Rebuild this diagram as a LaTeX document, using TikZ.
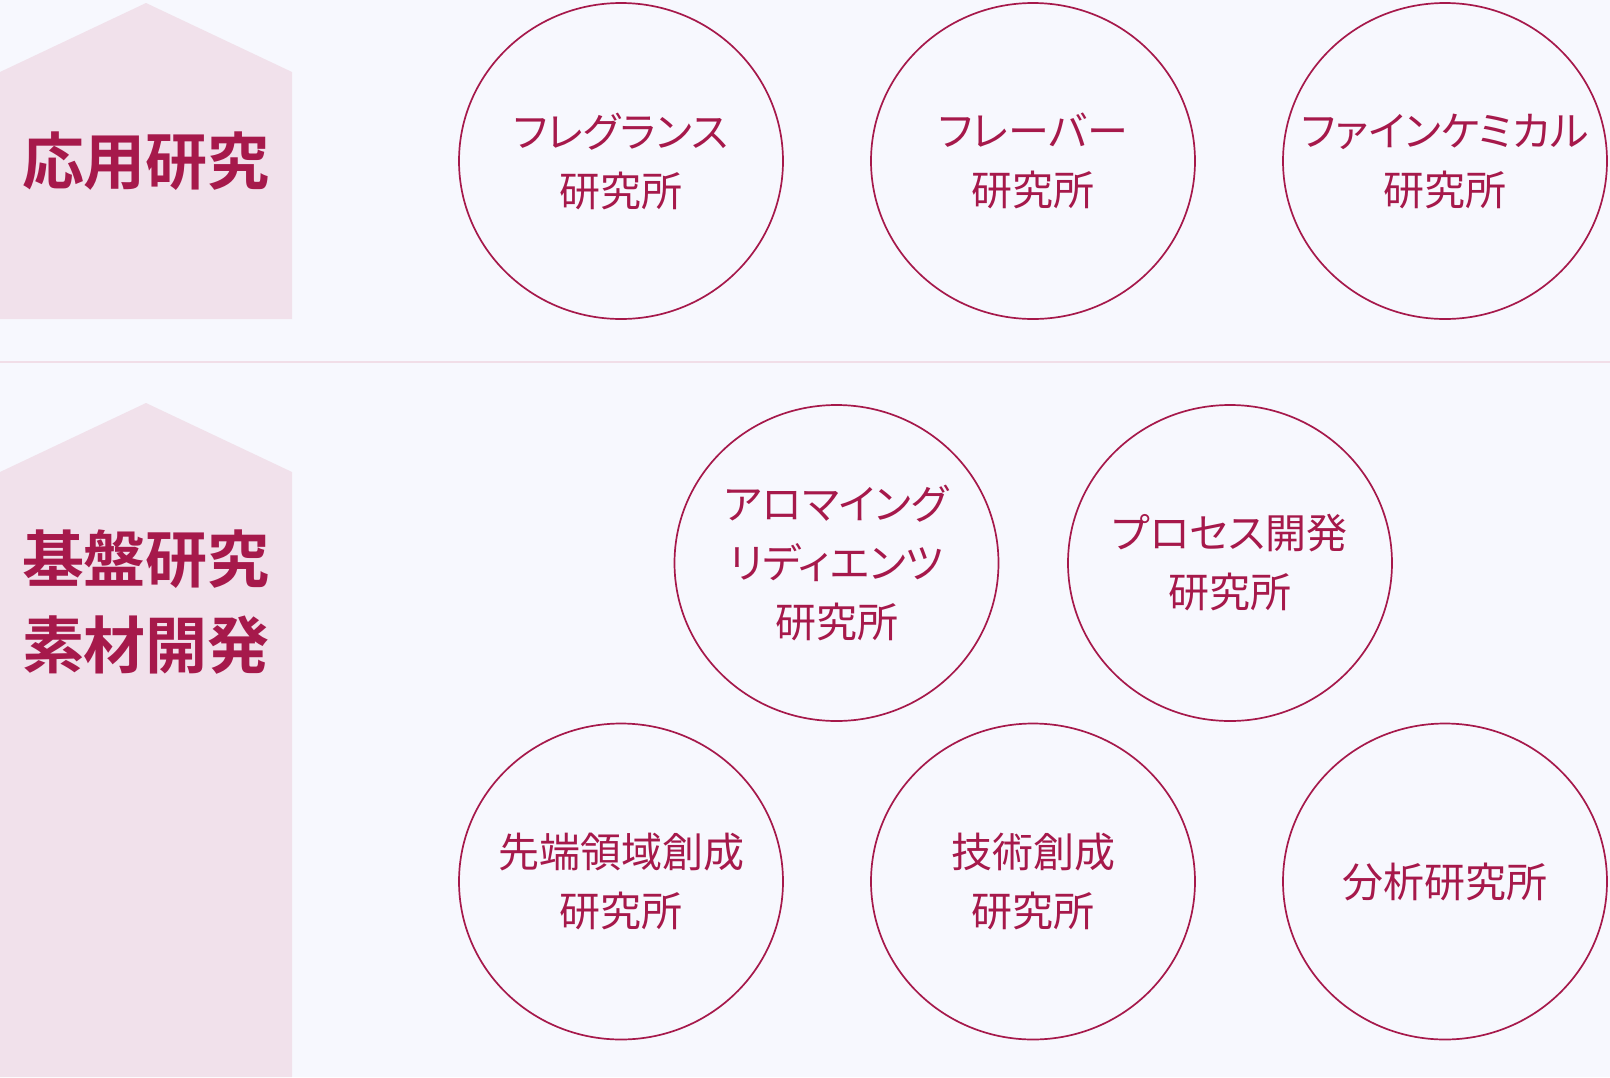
\documentclass[tikz,border=0pt]{standalone}
\usepackage{fontspec}
\usetikzlibrary{shapes.geometric}
\setmainfont{Noto Sans CJK JP}[BoldFont={Noto Sans CJK JP Bold}]
\newfontfamily\labfont{Noto Sans CJK JP}[RawFeature=+palt]
\definecolor{bgc}{HTML}{F7F8FE}
\definecolor{pentc}{HTML}{F1E1EB}
\definecolor{crim}{HTML}{A6194B}
\definecolor{sepc}{HTML}{F1DEE8}
\tikzset{
  ring/.style={ellipse, draw=crim, line width=1.7pt, minimum width=324pt, minimum height=316pt, inner sep=0pt},
  labtxt/.style={align=center, text=crim, inner sep=0pt, font=\labfont\fontsize{41}{59}\selectfont},
  head/.style={text=crim, align=center, inner sep=0pt, font=\bfseries\fontsize{62}{86}\selectfont},
  pent/.style={fill=pentc, draw=none}
}
\begin{document}
\begin{tikzpicture}[x=1pt,y=-1pt]
\fill[bgc] (0,0) rectangle (1610,1077);
\useasboundingbox (0,0) rectangle (1610,1077);
% section pentagons
\fill[pent] (0,72) -- (146,3) -- (292,72) -- (292,319) -- (0,319) -- cycle;
\fill[pent] (0,472) -- (146,403) -- (292,472) -- (292,1077) -- (0,1077) -- cycle;
% separator
\coordinate (sepL) at (0,361.5);
\coordinate (sepR) at (1610,361.5);
\draw[sepc, line width=2pt] (sepL) -- (sepR);
% headings
\node[head] (h1) at (146,161) {応用研究};
\node[head] (h2) at (146,602) {基盤研究\\素材開発};
% top row
\node[ring] (c1) at (621,161) {};
\node[ring] (c2) at (1033,161) {};
\node[ring] (c3) at (1445,161) {};
% middle row
\node[ring] (c4) at (836.5,563) {};
\node[ring] (c5) at (1230,563) {};
% bottom row
\node[ring] (c6) at (621,881.5) {};
\node[ring] (c7) at (1033,881.5) {};
\node[ring] (c8) at (1445,881.5) {};
% labels
\node[labtxt] (t1) at (c1) {フレグランス\\研究所};
\node[labtxt] (t2) at (c2) {フレーバー\\研究所};
\node[labtxt] (t3) at (c3) {ファインケミカル\\研究所};
\node[labtxt] (t4) at (c4) {アロマイング\\リディエンツ\\研究所};
\node[labtxt] (t5) at (c5) {プロセス開発\\研究所};
\node[labtxt] (t6) at (c6) {先端領域創成\\研究所};
\node[labtxt] (t7) at (c7) {技術創成\\研究所};
\node[labtxt] (t8) at (c8) {分析研究所};
\end{tikzpicture}
\end{document}
